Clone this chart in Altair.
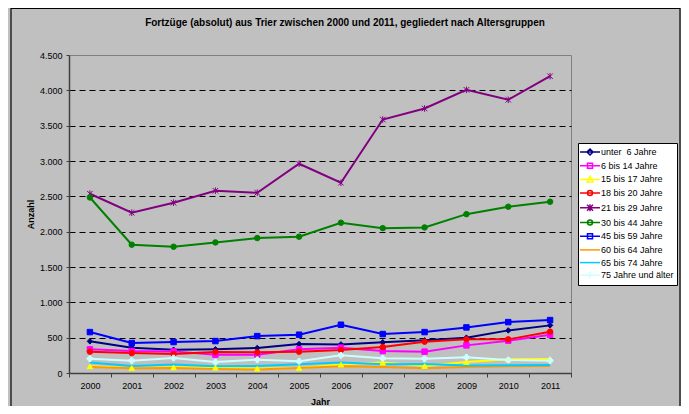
import altair as alt
import pandas as pd

years = ["2000", "2001", "2002", "2003", "2004", "2005",
         "2006", "2007", "2008", "2009", "2010", "2011"]

series_names = ["unter \u00a06 Jahre", "6 bis 14 Jahre", "15 bis 17 Jahre", "18 bis 20 Jahre",
                "21 bis 29 Jahre", "30 bis 44 Jahre", "45 bis 59 Jahre", "60 bis 64 Jahre",
                "65 bis 74 Jahre", "75 Jahre und älter"]

unter6 = [448, 359, 330, 335, 353, 410, 405, 434, 462, 500, 603, 674]
b6_14 = [335, 311, 306, 260, 260, 335, 359, 311, 302, 391, 458, 542]
b15_17 = [95, 71, 80, 76, 62, 71, 119, 147, 99, 155, 194, 198]
b18_20 = [302, 282, 268, 297, 292, 302, 325, 367, 443, 476, 476, 585]
b21_29 = [2537, 2268, 2410, 2579, 2551, 2961, 2692, 3587, 3743, 4007, 3866, 4200]
b30_44 = [2484, 1816, 1787, 1848, 1909, 1929, 2127, 2050, 2060, 2248, 2353, 2424]
b45_59 = [579, 424, 438, 452, 522, 542, 683, 551, 579, 645, 720, 749]
b60_64 = [85, 68, 71, 57, 48, 71, 95, 85, 66, 85, 95, 99]
b65_74 = [147, 99, 119, 95, 99, 123, 147, 123, 127, 105, 109, 113]
b75 = [203, 175, 212, 155, 189, 165, 250, 208, 203, 222, 184, 175]

series_values = [unter6, b6_14, b15_17, b18_20, b21_29, b30_44, b45_59, b60_64, b65_74, b75]

colors = ["#000080", "#FF00FF", "#FFFF00", "#FF0000", "#800080",
          "#008000", "#0000FF", "#FF9900", "#00CCFF", "#CCFFFF"]

ASTER = "M-1,-1L1,1M-1,1L1,-1M0,-1.2L0,1.2"
markers = ["diamond", "square", "triangle-up", "circle", ASTER,
           "circle", "square", "none", "none", "cross"]

LINE = "M-2,0L2,0"
legend_paths = [
    LINE + "M0,-0.6L0.6,0L0,0.6L-0.6,0Z",
    LINE + "M-0.5,-0.5L0.5,-0.5L0.5,0.5L-0.5,0.5Z",
    LINE + "M0,-0.6L0.6,0.5L-0.6,0.5Z",
    LINE + "M-0.5,0A0.5,0.5 0 1,0 0.5,0A0.5,0.5 0 1,0 -0.5,0Z",
    LINE + "M-0.6,-0.6L0.6,0.6M-0.6,0.6L0.6,-0.6M0,-0.7L0,0.7",
    LINE + "M-0.5,0A0.5,0.5 0 1,0 0.5,0A0.5,0.5 0 1,0 -0.5,0Z",
    LINE + "M-0.5,-0.5L0.5,-0.5L0.5,0.5L-0.5,0.5Z",
    LINE,
    LINE,
    LINE + "M-0.6,0L0.6,0M0,-0.6L0,0.6",
]

rows = []
for name, vals, col, mk in zip(series_names, series_values, colors, markers):
    for yr, v in zip(years, vals):
        rows.append({"year": yr, "series": name, "value": v, "hex": col, "marker": mk})
df = pd.DataFrame(rows)

FONT = "Liberation Sans, Arial, sans-serif"

x_enc = alt.X("year:O",
              scale=alt.Scale(type="band", paddingInner=0, paddingOuter=0),
              axis=alt.Axis(title="Jahr", labelAngle=0, tickBand="extent", tickSize=4,
                            labelPadding=4, grid=False, titleX=251, titleY=28,
                            titleBaseline="middle", titleAlign="center"))
y_enc = alt.Y("value:Q",
              scale=alt.Scale(domain=[0, 4500], nice=False),
              axis=alt.Axis(title="Anzahl", values=list(range(0, 4501, 500)),
                            labelExpr="replace(format(datum.value, ','), ',', '.')",
                            tickSize=3, labelPadding=4, grid=True, gridDash=[6, 4],
                            gridColor="black", gridWidth=1,
                            gridOpacity={"condition": {"test": "datum.value >= 4500", "value": 0}, "value": 1},
                            titleX=-39, titleY=159, titleAngle=270,
                            titleBaseline="middle", titleAlign="center"))

frame = alt.Chart(pd.DataFrame({"k": [0]})).mark_rect(
    fillOpacity=0, stroke="black", strokeWidth=1.2
).encode(x=alt.value(-58), x2=alt.value(611), y=alt.value(-46.5), y2=alt.value(420))

lines = alt.Chart(df).mark_line(strokeWidth=2).encode(
    x=x_enc, y=y_enc,
    color=alt.Color("hex:N", scale=None),
    detail="series:N",
)

points = alt.Chart(df).transform_filter("datum.marker != 'none'").mark_point(
    size=30, strokeWidth=1, opacity=1
).encode(
    x=x_enc, y=y_enc,
    shape=alt.Shape("marker:N", scale=None),
    fill=alt.Fill("hex:N", scale=None),
    stroke=alt.Stroke("hex:N", scale=None),
)

leg = alt.Legend(title=None, orient="none", legendX=509, legendY=88,
                 fillColor="white", strokeColor="black", padding=3,
                 rowPadding=1.7, symbolSize=100, symbolStrokeWidth=1.5,
                 symbolOffset=3, labelOffset=5, labelFont=FONT, labelFontSize=9,
                 labelColor="black", symbolType="circle")

legend_layer = alt.Chart(df).transform_filter("datum.value < 0").mark_point(
    size=100, strokeWidth=1.5, opacity=1, filled=False
).encode(
    x=x_enc, y=y_enc,
    color=alt.Color("series:N", scale=alt.Scale(domain=series_names, range=colors), legend=leg),
    shape=alt.Shape("series:N", scale=alt.Scale(domain=series_names, range=legend_paths), legend=leg),
)

chart = alt.layer(frame, lines, points, legend_layer).properties(
    width=502, height=318,
    padding={"left": 61, "top": 47, "right": 110, "bottom": 33},
    autosize=alt.AutoSizeParams(type="none"),
    background="#C0C0C0",
    title=alt.TitleParams(
        text="Fortzüge (absolut) aus Trier zwischen 2000 und 2011, gegliedert nach Altersgruppen",
        font=FONT, fontSize=10, fontWeight="bold", color="black",
        anchor="middle", dx=25, offset=-20),
).configure_view(
    stroke="#808080", strokeWidth=1
).configure_axis(
    labelFont=FONT, labelFontSize=9, labelColor="black",
    titleFont=FONT, titleFontSize=9, titleFontWeight="bold", titleColor="black",
    domainColor="#404040", domainWidth=1.5, tickColor="#404040", tickWidth=1
)

chart.save("out.html", embed_options={"renderer": "svg", "actions": False})
